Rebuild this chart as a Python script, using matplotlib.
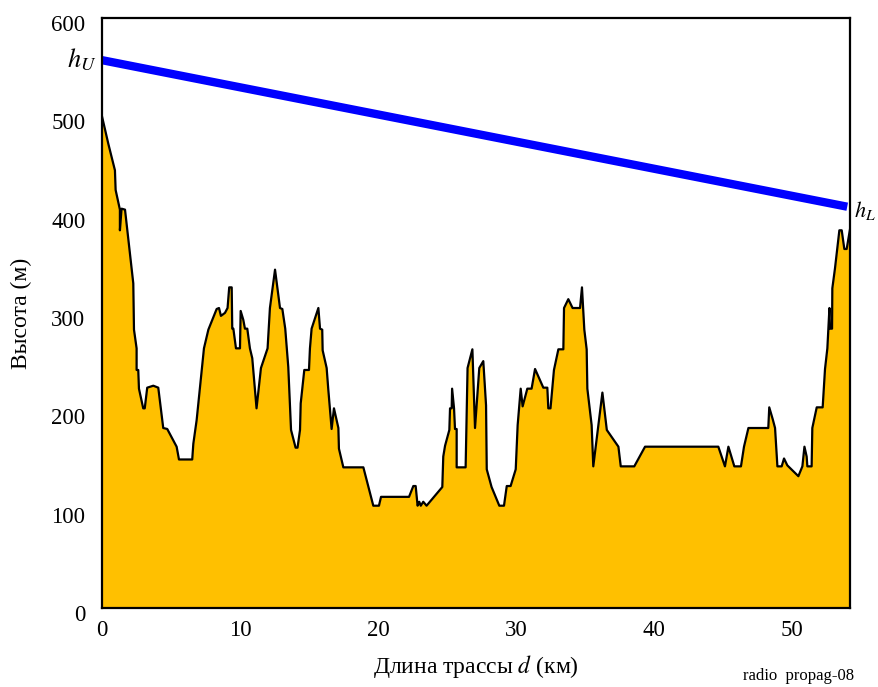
import matplotlib
matplotlib.use('Agg')
import matplotlib.pyplot as plt
from matplotlib.transforms import ScaledTranslation

plt.rcParams['font.family'] = ['Liberation Serif', 'DejaVu Serif']
plt.rcParams['mathtext.fontset'] = 'stix'

# terrain profile, km / m
dist_km = [0, 0.46, 0.94, 0.99, 1.30, 1.30, 1.42, 1.67, 2.27, 2.32, 2.51, 2.51,
           2.63, 2.68, 2.99, 3.10, 3.28, 3.72, 4.08, 4.44, 4.73, 5.41, 5.58,
           6.54, 6.62, 6.86, 7.39, 7.71, 8.31, 8.48, 8.62, 8.91, 9.10, 9.22,
           9.40, 9.44, 9.52, 9.71, 10.0,
           10.05, 10.24, 10.36, 10.53, 10.72, 10.89, 11.2, 11.52, 12.0, 12.17,
           12.54, 12.9, 13.07, 13.28, 13.5, 13.7, 14.03, 14.17, 14.35, 14.4,
           14.66, 15.0, 15.07, 15.19, 15.68, 15.8, 15.96, 15.99, 16.28, 16.4,
           16.64, 16.81, 17.13, 17.17, 17.49, 18.94, 19.66, 20.07, 20.22, 22.25,
           22.56, 22.73, 22.87, 22.99, 23.1, 23.28, 23.52, 24.66, 24.73, 24.86,
           25.17, 25.22, 25.34, 25.37, 25.51, 25.58, 25.7, 25.7,
           26.35, 26.49, 26.84, 27.03, 27.34, 27.63, 27.83, 27.88, 28.23, 28.79,
           29.13, 29.33, 29.61, 29.98, 30.12, 30.34, 30.48, 30.82, 31.13, 31.38,
           31.98, 32.27, 32.34, 32.5, 32.75, 33.07, 33.43, 33.48, 33.79, 34.1,
           34.64, 34.78, 34.95, 35.12, 35.17, 35.48, 35.6, 36.26, 36.58, 37.42,
           37.59, 38.57, 39.35,
           44.66, 45.14, 45.39, 45.82, 46.3, 46.52, 46.84, 48.28, 48.35, 48.6,
           48.77, 48.94, 49.25, 49.42, 49.66, 50.46, 50.75, 50.9, 51.06, 51.11,
           51.42,
           51.47, 51.79, 52.22, 52.39, 52.56, 52.71, 52.75, 52.9, 52.92, 53.11,
           53.43, 53.6, 53.79, 53.96, 54.2]
height_m = [500, 472, 445, 425, 405, 384, 406, 405, 330, 283, 264, 242,
            242, 223, 203, 203, 224, 226, 224, 183, 182, 164, 151,
            151, 167, 191, 264, 283, 304, 305, 297, 300, 305, 326,
            326, 284, 284, 264, 264,
            302, 293, 284, 284, 264, 254, 203, 244, 264, 305,
            344, 305, 304, 284, 245, 181, 163, 163, 181, 208,
            242, 242, 264, 284, 305, 284, 283, 262, 244, 222,
            182, 203, 183, 162, 143, 143, 104, 104, 113, 113,
            124, 124, 104, 108, 104, 108, 104, 123, 154, 165,
            181, 203, 203, 223, 203, 182, 182, 143,
            143, 244, 263, 183, 244, 251, 206, 141, 123, 104,
            104, 124, 124, 141, 186, 223, 205, 223, 223, 243,
            224, 224, 203, 203, 242, 263, 263, 305, 314, 305,
            305, 326, 283, 263, 223, 186, 144, 219, 181, 164,
            144, 144, 164,
            164, 144, 164, 144, 144, 164, 183, 183, 204, 192,
            183, 144, 144, 152, 145, 134, 144, 164, 154, 144,
            144,
            183, 204, 204, 243, 264, 305, 284, 284, 325, 345,
            384, 384, 365, 365, 385]

# ray between the two antennas
ray_km = [0, 54.0]
ray_m = [557, 408]

x_ticks = [0, 10, 20, 30, 40, 50]
y_ticks = [0, 100, 200, 300, 400, 500, 600]

fig = plt.figure(figsize=(8.79, 6.87), dpi=100)
ax = fig.add_axes([0.116, 0.115, 0.851, 0.859])

ax.fill_between(dist_km, height_m, 0, color='#FFC000', lw=0)
ax.plot(dist_km, height_m, color='black', lw=1.6)
ax.plot(ray_km, ray_m, color='#0000FF', lw=6, solid_capstyle='butt')

ax.set_xlim(0, 54.2)
ax.set_ylim(0, 600)
ax.set_xticks(x_ticks)
ax.set_yticks(y_ticks)
ax.tick_params(length=0, labelsize=16.5)
ax.tick_params(axis='y', pad=12)
ax.tick_params(axis='x', pad=9)
for lbl in ax.get_yticklabels():
    lbl.set_transform(lbl.get_transform() + ScaledTranslation(0, -5 / 100, fig.dpi_scale_trans))
for s in ax.spines.values():
    s.set_linewidth(1.6)

ax.set_ylabel('Высота (м)', fontsize=17, labelpad=14)
ax.set_xlabel('Длина трассы $d$ (км)', fontsize=17, labelpad=8)

ax.text(-0.4, 557, '$h_U$', fontsize=19, ha='right', va='center')
ax.text(54.5, 404, '$h_L$', fontsize=16, ha='left', va='center')
fig.text(0.972, 0.005, 'radio  propag-08', fontsize=12, ha='right', va='bottom')

plt.savefig('out.png', dpi=100)
